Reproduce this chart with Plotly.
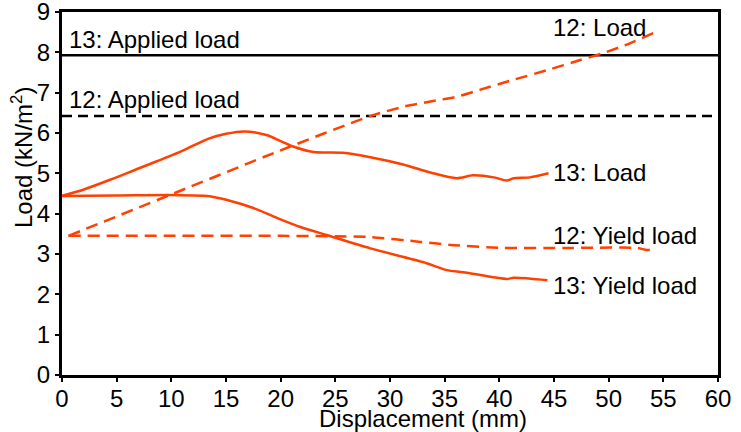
import plotly.graph_objects as go

# Displacement (mm) and load (kN/m2) readings
load13_x = [0, 2, 4.4, 7, 10.8, 13.3, 15, 16.7, 18.7, 20, 21.2, 23.0, 25.7, 28.2, 31.2, 33.7, 36.1, 37.6, 39.5, 40.7, 41.3, 42.8, 44.5]
load13_y = [4.44, 4.6, 4.84, 5.12, 5.53, 5.85, 5.98, 6.04, 5.95, 5.80, 5.66, 5.53, 5.51, 5.40, 5.22, 5.02, 4.88, 4.95, 4.90, 4.82, 4.88, 4.90, 5.00]

yield13_x = [0, 5, 10, 13.3, 15.1, 17.5, 19.7, 21.8, 24.2, 28.2, 33.0, 35.2, 36.7, 40.7, 41.3, 44.4]
yield13_y = [4.44, 4.45, 4.46, 4.44, 4.34, 4.14, 3.89, 3.67, 3.47, 3.14, 2.80, 2.60, 2.55, 2.38, 2.41, 2.35]

load12_x = [0.6, 10.2, 20, 28.2, 31.2, 33.7, 36.1, 38.2, 41.3, 44.4, 47.4, 49.5, 52.0, 54.1]
load12_y = [3.45, 4.50, 5.57, 6.42, 6.65, 6.78, 6.90, 7.07, 7.32, 7.56, 7.81, 7.98, 8.23, 8.48]

yield12_x = [0.6, 10, 20, 25, 28.2, 32.8, 35.8, 40.4, 46, 52.6, 53.5, 54.1]
yield12_y = [3.45, 3.45, 3.45, 3.44, 3.42, 3.30, 3.22, 3.15, 3.15, 3.15, 3.10, 3.12]

applied13 = 7.93
applied12 = 6.42

x_ticks = list(range(0, 61, 5))
y_ticks = list(range(0, 10))

RED = "#FF4000"
FONT = "Liberation Sans, Arial, sans-serif"
FS = 24

fig = go.Figure()

fig.add_trace(go.Scatter(x=[0, 60], y=[applied13, applied13], mode="lines",
                         line=dict(color="black", width=2.5)))
fig.add_trace(go.Scatter(x=[0, 60], y=[applied12, applied12], mode="lines",
                         line=dict(color="black", width=2.5, dash="10px,6px")))
fig.add_trace(go.Scatter(x=load12_x, y=load12_y, mode="lines",
                         line=dict(color=RED, width=2.5, dash="12px,7px", shape="spline", smoothing=0.6)))
fig.add_trace(go.Scatter(x=yield12_x, y=yield12_y, mode="lines",
                         line=dict(color=RED, width=2.5, dash="12px,7px", shape="spline", smoothing=0.6)))
fig.add_trace(go.Scatter(x=load13_x, y=load13_y, mode="lines",
                         line=dict(color=RED, width=2.5, shape="spline", smoothing=0.8)))
fig.add_trace(go.Scatter(x=yield13_x, y=yield13_y, mode="lines",
                         line=dict(color=RED, width=2.5, shape="spline", smoothing=0.8)))

labels = [
    (0.5, 8.31, "13: Applied load"),
    (0.5, 6.82, "12: Applied load"),
    (44.7, 8.62, "12: Load"),
    (44.7, 5.01, "13: Load"),
    (44.7, 3.45, "12: Yield load"),
    (44.7, 2.23, "13: Yield load"),
]
for x, y, t in labels:
    fig.add_annotation(x=x, y=y, text=t, showarrow=False, xanchor="left", yanchor="middle",
                       font=dict(size=FS, color="black", family=FONT))

fig.add_annotation(xref="paper", yref="paper", x=(423 - 62) / 656, y=(375 - 419) / 363,
                   text="Displacement (mm)", showarrow=False, xanchor="center", yanchor="middle",
                   font=dict(size=FS, color="black", family=FONT))
fig.add_annotation(xref="paper", yref="paper", x=(22 - 62) / 656, y=(375 - 158) / 363,
                   text="Load (kN/m<sup>2</sup>)", showarrow=False, textangle=-90,
                   xanchor="center", yanchor="middle",
                   font=dict(size=FS, color="black", family=FONT))

axis_common = dict(ticks="outside", ticklen=4, tickwidth=2, tickcolor="black",
                   showline=True, linecolor="black", linewidth=3, mirror=True,
                   showgrid=False, zeroline=False, automargin=False,
                   ticklabeloverflow="allow",
                   tickfont=dict(size=FS, color="black", family=FONT))
fig.update_xaxes(range=[0, 60], tickvals=x_ticks, ticklabelstandoff=-4, **axis_common)
fig.update_yaxes(range=[0, 9], tickvals=y_ticks, **axis_common)

fig.update_layout(width=741, height=432, margin=dict(l=62, r=23, t=12, b=57),
                  plot_bgcolor="white", paper_bgcolor="white", showlegend=False)

fig.write_html("out.html")
